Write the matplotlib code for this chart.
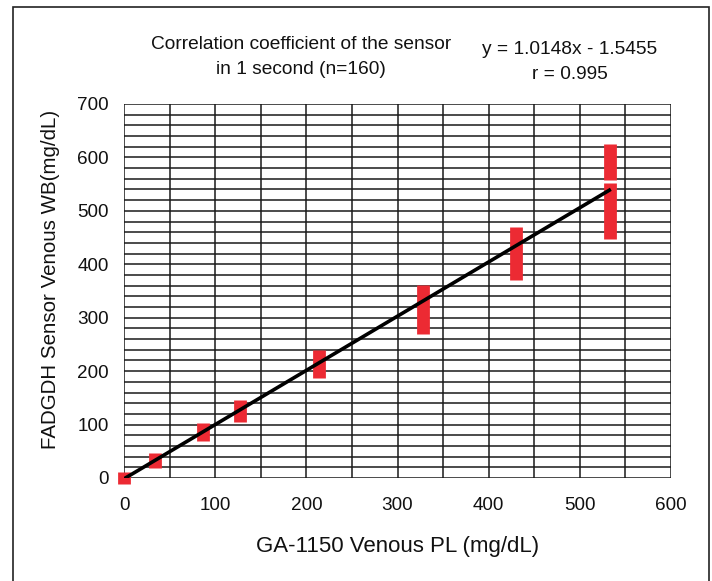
import matplotlib
matplotlib.use("Agg")
import matplotlib.pyplot as plt
from matplotlib.patches import Rectangle

plt.rcParams['font.family'] = ['Liberation Sans', 'DejaVu Sans']

# Reference method values (mg/dL) for each sample level
ref_pl = [0, 33.5, 87, 127, 214, 328, 430, 533]
# Sensor readings spread at each level: (low, high) in mg/dL
sensor_low = [-11, 19, 69, 105, 187, 270, 371, 447]
sensor_high = [11, 47, 103, 146, 240, 361, 470, 552]
# Extra upper cluster at the highest level
upper_x = [533]
upper_low = [558]
upper_high = [626]

slope = 1.0148
intercept = -1.5455
r_value = 0.995
n_samples = 160

x_ticks = [0, 100, 200, 300, 400, 500, 600]
y_ticks = [0, 100, 200, 300, 400, 500, 600, 700]

W, H = 712, 581
fig = plt.figure(figsize=(W / 100, H / 100), dpi=100)
ax = fig.add_axes([124 / W, (H - 478) / H, 547 / W, 374 / H])

ax.set_xlim(0, 600)
ax.set_ylim(0, 700)

grid_kw = dict(color='#1a1a1a', lw=1.1, zorder=1)
for gx in range(0, 601, 50):
    ax.axvline(gx, **grid_kw)
for gy in range(0, 701, 20):
    ax.axhline(gy, **grid_kw)

red = '#ec2a33'
ax.vlines(ref_pl, sensor_low, sensor_high, colors=red, lw=9.2,
          capstyle='butt', zorder=3, clip_on=False)
ax.vlines(upper_x, upper_low, upper_high, colors=red, lw=9.2,
          capstyle='butt', zorder=3, clip_on=False)

fit_x = [min(ref_pl), 534]
fit_y = [slope * v + intercept for v in fit_x]
ax.plot(fit_x, fit_y, color='black', lw=2.6, zorder=4, solid_capstyle='butt')

for s in ax.spines.values():
    s.set_visible(False)
ax.set_xticks(x_ticks)
ax.set_yticks(y_ticks)
ax.tick_params(length=0, labelsize=13.6, colors='#111111', pad=0)
ax.tick_params(axis='x', pad=14)
ax.tick_params(axis='y', pad=11)

ax.set_xlabel('GA-1150 Venous PL (mg/dL)', fontsize=16, color='#111111')
ax.xaxis.set_label_coords(0.5, -0.155)
ax.set_ylabel('FADGDH Sensor Venous WB(mg/dL)', fontsize=14.8, color='#111111')
ax.yaxis.set_label_coords(-0.117, 0.53)

fig.text(301 / W, 1 - 57 / H,
         'Correlation coefficient of the sensor\nin 1 second (n={})'.format(n_samples),
         ha='center', va='center', fontsize=13.8, linespacing=1.6, color='#111111')
fig.text(570 / W, 1 - 62 / H,
         'y = {:.4f}x - {:.4f}\nr = {:.3f}'.format(slope, -intercept, r_value),
         ha='center', va='center', fontsize=13.8, linespacing=1.55, color='#111111')

# Outer frame around the whole figure
fig.patches.append(Rectangle((13 / W, -0.05), (709 - 13) / W, 1.05 - 7 / H,
                             transform=fig.transFigure, fill=False,
                             edgecolor='#222222', lw=1.2))

fig.savefig('out.png', dpi=100)
